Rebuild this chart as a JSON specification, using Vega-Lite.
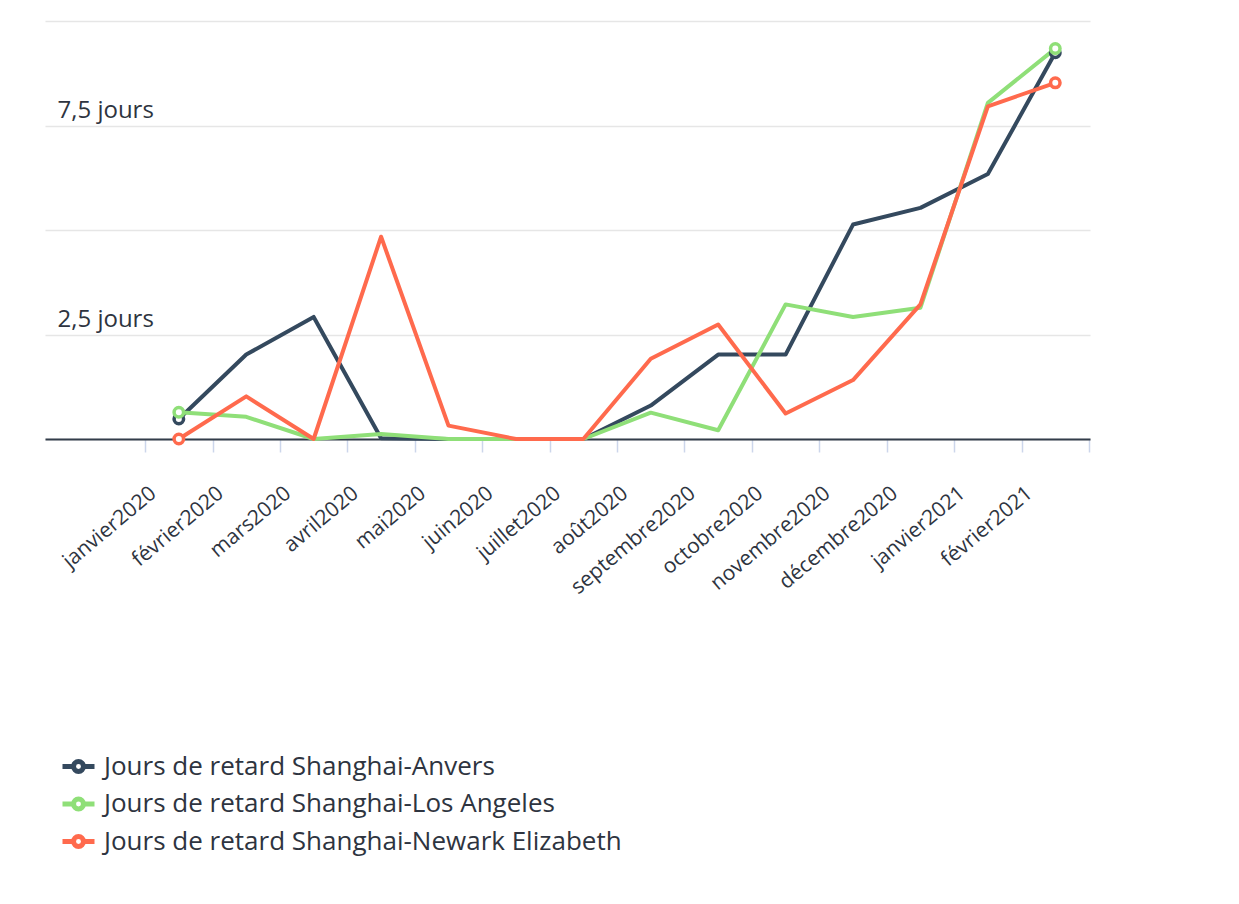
{
  "$schema": "https://vega.github.io/schema/vega-lite/v6.json",
  "width": 1045,
  "height": 418,
  "autosize": {"type": "none"},
  "padding": {"left": 45, "top": 21, "right": 149, "bottom": 465},
  "background": "white",
  "config": {
    "view": {"stroke": null},
    "font": "Open Sans",
    "axis": {"labelFont": "Open Sans", "labelColor": "#2e3440"}
  },
  "data": {
    "values": [
      {"month": "janvier2020", "series": "Jours de retard Shanghai-Anvers", "value": 0.48},
      {"month": "février2020", "series": "Jours de retard Shanghai-Anvers", "value": 2.02},
      {"month": "mars2020", "series": "Jours de retard Shanghai-Anvers", "value": 2.92},
      {"month": "avril2020", "series": "Jours de retard Shanghai-Anvers", "value": 0.02},
      {"month": "mai2020", "series": "Jours de retard Shanghai-Anvers", "value": 0},
      {"month": "juin2020", "series": "Jours de retard Shanghai-Anvers", "value": 0},
      {"month": "juillet2020", "series": "Jours de retard Shanghai-Anvers", "value": 0},
      {"month": "août2020", "series": "Jours de retard Shanghai-Anvers", "value": 0.8},
      {"month": "septembre2020", "series": "Jours de retard Shanghai-Anvers", "value": 2.02},
      {"month": "octobre2020", "series": "Jours de retard Shanghai-Anvers", "value": 2.02},
      {"month": "novembre2020", "series": "Jours de retard Shanghai-Anvers", "value": 5.13},
      {"month": "décembre2020", "series": "Jours de retard Shanghai-Anvers", "value": 5.53},
      {"month": "janvier2021", "series": "Jours de retard Shanghai-Anvers", "value": 6.34},
      {"month": "février2021", "series": "Jours de retard Shanghai-Anvers", "value": 9.24},
      {"month": "janvier2020", "series": "Jours de retard Shanghai-Los Angeles", "value": 0.64},
      {"month": "février2020", "series": "Jours de retard Shanghai-Los Angeles", "value": 0.53},
      {"month": "mars2020", "series": "Jours de retard Shanghai-Los Angeles", "value": 0},
      {"month": "avril2020", "series": "Jours de retard Shanghai-Los Angeles", "value": 0.12},
      {"month": "mai2020", "series": "Jours de retard Shanghai-Los Angeles", "value": 0},
      {"month": "juin2020", "series": "Jours de retard Shanghai-Los Angeles", "value": 0},
      {"month": "juillet2020", "series": "Jours de retard Shanghai-Los Angeles", "value": 0},
      {"month": "août2020", "series": "Jours de retard Shanghai-Los Angeles", "value": 0.63},
      {"month": "septembre2020", "series": "Jours de retard Shanghai-Los Angeles", "value": 0.21},
      {"month": "octobre2020", "series": "Jours de retard Shanghai-Los Angeles", "value": 3.22},
      {"month": "novembre2020", "series": "Jours de retard Shanghai-Los Angeles", "value": 2.92},
      {"month": "décembre2020", "series": "Jours de retard Shanghai-Los Angeles", "value": 3.14},
      {"month": "janvier2021", "series": "Jours de retard Shanghai-Los Angeles", "value": 8.04},
      {"month": "février2021", "series": "Jours de retard Shanghai-Los Angeles", "value": 9.34},
      {"month": "janvier2020", "series": "Jours de retard Shanghai-Newark Elizabeth", "value": 0},
      {"month": "février2020", "series": "Jours de retard Shanghai-Newark Elizabeth", "value": 1.02},
      {"month": "mars2020", "series": "Jours de retard Shanghai-Newark Elizabeth", "value": 0},
      {"month": "avril2020", "series": "Jours de retard Shanghai-Newark Elizabeth", "value": 4.84},
      {"month": "mai2020", "series": "Jours de retard Shanghai-Newark Elizabeth", "value": 0.32},
      {"month": "juin2020", "series": "Jours de retard Shanghai-Newark Elizabeth", "value": 0},
      {"month": "juillet2020", "series": "Jours de retard Shanghai-Newark Elizabeth", "value": 0},
      {"month": "août2020", "series": "Jours de retard Shanghai-Newark Elizabeth", "value": 1.92},
      {"month": "septembre2020", "series": "Jours de retard Shanghai-Newark Elizabeth", "value": 2.74},
      {"month": "octobre2020", "series": "Jours de retard Shanghai-Newark Elizabeth", "value": 0.61},
      {"month": "novembre2020", "series": "Jours de retard Shanghai-Newark Elizabeth", "value": 1.41},
      {"month": "décembre2020", "series": "Jours de retard Shanghai-Newark Elizabeth", "value": 3.22},
      {"month": "janvier2021", "series": "Jours de retard Shanghai-Newark Elizabeth", "value": 7.96},
      {"month": "février2021", "series": "Jours de retard Shanghai-Newark Elizabeth", "value": 8.52}
    ]
  },
  "encoding": {
    "x": {
      "field": "month",
      "type": "nominal",
      "sort": ["janvier2020", "février2020", "mars2020", "avril2020", "mai2020", "juin2020", "juillet2020", "août2020", "septembre2020", "octobre2020", "novembre2020", "décembre2020", "janvier2021", "février2021"],
      "scale": {"type": "band", "paddingInner": 0, "paddingOuter": 0.75, "align": 0.99},
      "axis": {
        "title": null,
        "domainColor": "#333d4a",
        "domainWidth": 2,
        "tickBand": "extent",
        "tickColor": "#ccd6eb",
        "tickSize": 13,
        "tickWidth": 1.5,
        "grid": false,
        "labelAngle": -40,
        "labelAlign": "right",
        "labelBaseline": "alphabetic",
        "labelPadding": 43,
        "labelOffset": -22,
        "labelFontSize": 21,
        "labelOverlap": false,
        "labelBound": false,
        "labelFlush": false
      }
    },
    "y": {
      "field": "value",
      "type": "quantitative",
      "scale": {"domain": [0, 10], "nice": false},
      "axis": {
        "title": null,
        "domain": false,
        "ticks": false,
        "tickSize": 0,
        "grid": true,
        "gridColor": "#e6e6e6",
        "gridWidth": 1.6,
        "values": [0, 2.5, 5, 7.5, 10],
        "labelExpr": "datum.value == 2.5 ? '2,5 jours' : datum.value == 7.5 ? '7,5 jours' : ''",
        "labelAlign": "left",
        "labelBaseline": "alphabetic",
        "labelPadding": -12,
        "labelOffset": -8,
        "labelFontSize": 24
      }
    }
  },
  "layer": [
    {
      "mark": {"type": "line", "strokeWidth": 4, "strokeJoin": "round"},
      "encoding": {
        "color": {
          "field": "series",
          "type": "nominal",
          "scale": {
            "domain": ["Jours de retard Shanghai-Anvers", "Jours de retard Shanghai-Los Angeles", "Jours de retard Shanghai-Newark Elizabeth"],
            "range": ["#34495e", "#8fdf78", "#ff6a4d"]
          },
          "legend": {
            "title": null,
            "orient": "none",
            "legendX": 15,
            "legendY": 727,
            "direction": "vertical",
            "padding": 0,
            "symbolType": "M-1,0H-0.31M0.31,0H1M-0.31,0A0.31,0.31,0,1,0,0.31,0A0.31,0.31,0,1,0,-0.31,0",
            "symbolSize": 1024,
            "symbolStrokeWidth": 5,
            "symbolFillColor": "white",
            "labelFontSize": 26,
            "labelFont": "Open Sans",
            "labelColor": "#2e3440",
            "labelOffset": 7,
            "rowPadding": 3.5,
            "labelLimit": 800,
            "encode": {"symbols": {"update": {"fill": {"value": "white"}, "opacity": {"value": 1}}}}
          }
        }
      }
    },
    {
      "transform": [{"filter": {"field": "month", "oneOf": ["janvier2020", "février2021"]}}],
      "mark": {"type": "point", "shape": "circle", "filled": true, "fill": "white", "strokeWidth": 3.5, "size": 90, "opacity": 1},
      "encoding": {
        "stroke": {
          "field": "series",
          "type": "nominal",
          "scale": {
            "domain": ["Jours de retard Shanghai-Anvers", "Jours de retard Shanghai-Los Angeles", "Jours de retard Shanghai-Newark Elizabeth"],
            "range": ["#34495e", "#8fdf78", "#ff6a4d"]
          },
          "legend": null
        }
      }
    }
  ]
}
